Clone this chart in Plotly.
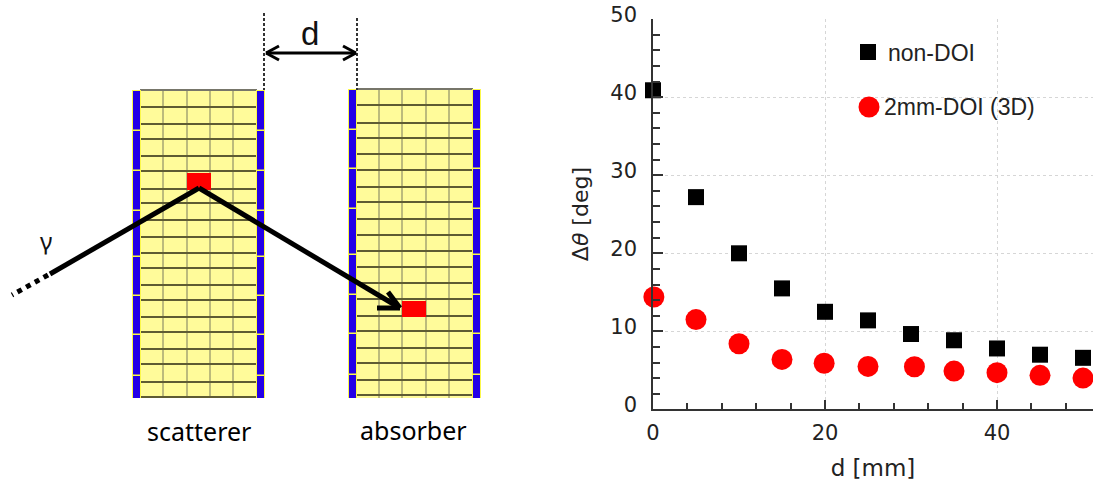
import plotly.graph_objects as go

# ---------- chart data ----------
d_mm = [0, 5, 10, 15, 20, 25, 30, 35, 40, 45, 50]
non_doi = [40.9, 27.2, 20.0, 15.5, 12.5, 11.4, 9.65, 8.85, 7.8, 7.0, 6.6]
doi_x = [0.1, 5, 10, 15, 19.9, 25, 30.4, 35, 40, 45, 50]
doi_3d = [14.4, 11.5, 8.4, 6.4, 5.9, 5.5, 5.45, 4.9, 4.7, 4.35, 4.0]
x_tick_step = 20
y_tick_step = 10

# ---------- schematic geometry (schematic units = page pixels) ----------
scat_rows = [107, 124, 139, 156, 171, 189, 203, 220, 237, 253, 268, 285, 300, 317, 332, 349, 364, 382, 397]
abs_rows = [105, 123, 138, 154, 170, 187, 202, 219, 235, 251, 267, 283, 299, 316, 331, 348, 363, 380, 395]
scat_cols = [163, 187, 210, 233]
abs_cols = [379, 402, 426, 449]
scat_blocks = [90, 130, 170, 210, 256, 295, 334, 375, 398]
abs_blocks = [89, 129, 168, 208, 254, 294, 333, 374, 398]
W, H = 1093, 481

CHART_L, CHART_B, CHART_T = 653, 409.3, 19.3

shapes = []


def rect(x0, y0, x1, y1, fill, line=None, lw=0):
    shapes.append(dict(type="rect", xref="x2", yref="y2", x0=x0, y0=y0, x1=x1, y1=y1,
                       fillcolor=fill, line=dict(color=line or fill, width=lw)))


def seg(x0, y0, x1, y1, color="#000000", w=2.0, dash="solid"):
    shapes.append(dict(type="line", xref="x2", yref="y2", x0=x0, y0=y0, x1=x1, y1=y1,
                       line=dict(color=color, width=w, dash=dash)))


def detector(left, right, top, bottom, rows, cols, blocks, hit):
    rect(left + 6, top, right - 6, bottom, "#fffb9a")
    for c in cols:
        seg(c, top, c, bottom, "#bcba7c", 2)
    for r in rows:
        seg(left + 7, r, right - 7, r, "#5e5b33", 2)
    seg(left + 7, top, right - 7, top, "#77766a", 2)
    for side in (left, right - 7):
        rect(side - 1, top, side + 8, bottom, "#fbf84a")
        for b0, b1 in zip(blocks[:-1], blocks[1:]):
            rect(side, b0 + 1, side + 7, b1 - 0.5 if b1 != bottom else b1, "#2400e6")
    rect(hit[0], hit[1], hit[2], hit[3], "#ff0000")


detector(133, 264, 90, 398, scat_rows, scat_cols, scat_blocks, (187, 173, 211, 190))
detector(349, 480, 89, 398, abs_rows, abs_cols, abs_blocks, (402, 301, 426, 317))

# beams
seg(50, 274, 199, 188, w=5)
seg(48, 275, 12, 295, w=5, dash="dot")
seg(199, 188, 400, 308, w=5)
seg(400, 308, 388, 292, w=5)
seg(400, 308, 377, 308, w=5)
# d dimension
seg(264, 13, 264, 90, "#333333", 2, "3px,2px")
seg(357, 18, 357, 90, "#333333", 2, "3px,2px")
seg(266, 53, 356, 53, w=3)
seg(266, 53, 279, 46, w=3)
seg(266, 53, 279, 60, w=3)
seg(356, 53, 343, 46, w=3)
seg(356, 53, 343, 60, w=3)

fig = go.Figure()
fig.add_trace(go.Scatter(x=d_mm, y=non_doi, mode="markers", name="non-DOI", cliponaxis=False,
                         marker=dict(symbol="square", size=16, color="#000000"), showlegend=False))
fig.add_trace(go.Scatter(x=doi_x, y=doi_3d, mode="markers", name="2mm-DOI (3D)", cliponaxis=False,
                         marker=dict(symbol="circle", size=21, color="#ff0000"), showlegend=False))
# legend keys, in schematic units
fig.add_trace(go.Scatter(x=[868], y=[52], mode="markers", xaxis="x2", yaxis="y2", showlegend=False, cliponaxis=False,
                         marker=dict(symbol="square", size=16, color="#000000")))
fig.add_trace(go.Scatter(x=[869], y=[107], mode="markers", xaxis="x2", yaxis="y2", showlegend=False, cliponaxis=False,
                         marker=dict(symbol="circle", size=21, color="#ff0000")))


def label(x, y, text, size, family, color="#111111", anchor="center"):
    return dict(x=x, y=y, xref="x2", yref="y2", text=text, showarrow=False, xanchor=anchor, yanchor="middle",
                font=dict(size=size, family=family, color=color))


annotations = [
    label(310, 33, "d", 33, "Liberation Sans"),
    label(46, 240, "γ", 24, "Noto Sans"),
    label(199, 431, "scatterer", 25, "Noto Sans", "#000000"),
    label(413, 430, "absorber", 25, "Noto Sans", "#000000"),
    label(886, 53, "non-DOI", 23, "Liberation Sans", "#222222", "left"),
    label(882, 107, "2mm-DOI (3D)", 23, "Liberation Sans", "#222222", "left"),
]

axis_font = dict(family="DejaVu Sans", size=21, color="#222222")
fig.update_layout(
    width=W, height=H, margin=dict(l=0, r=0, t=0, b=0, pad=0, autoexpand=False), autosize=False,
    paper_bgcolor="#ffffff", plot_bgcolor="rgba(0,0,0,0)", showlegend=False,
    shapes=shapes, annotations=annotations,
    xaxis=dict(domain=[CHART_L / W, 1], range=[0, (W - CHART_L) / 8.6], anchor="y",
               tick0=0, dtick=x_tick_step,
               ticks="inside", ticklen=10, tickwidth=1.5, tickcolor="#333333",
               minor=dict(dtick=4, tick0=0, ticks="inside", ticklen=7, tickwidth=1.5, tickcolor="#333333", showgrid=False),
               showline=True, linecolor="#333333", linewidth=1.5,
               showgrid=True, gridcolor="#d6d6d6", griddash="dot", gridwidth=1, zeroline=False,
               tickfont=axis_font, ticklabelstandoff=4,
               title=dict(text="d [mm]", font=dict(family="DejaVu Sans", size=23, color="#222222"), standoff=19)),
    yaxis=dict(domain=[(H - CHART_B) / H, (H - CHART_T + 0.4) / H], range=[0, 50.05], anchor="x",
               tick0=0, dtick=y_tick_step,
               ticks="inside", ticklen=10, tickwidth=1.5, tickcolor="#333333",
               minor=dict(dtick=2, tick0=0, ticks="inside", ticklen=7, tickwidth=1.5, tickcolor="#333333", showgrid=False),
               showline=True, linecolor="#333333", linewidth=1.5,
               showgrid=True, gridcolor="#d6d6d6", griddash="dot", gridwidth=1, zeroline=False,
               tickfont=axis_font, ticklabelstandoff=10, ticklabelshift=-5,
               title=dict(text="Δ<i>θ</i> [deg]", font=dict(family="DejaVu Sans", size=22, color="#222222"), standoff=16)),
    xaxis2=dict(domain=[0, 1], range=[0, W], visible=False, fixedrange=True, anchor="y2"),
    yaxis2=dict(domain=[0, 1], range=[H, 0], visible=False, fixedrange=True, anchor="x2"),
)

fig.write_html("out.html", config=dict(displayModeBar=False),
               post_script="document.body.style.margin='0';document.body.style.overflow='hidden';")
